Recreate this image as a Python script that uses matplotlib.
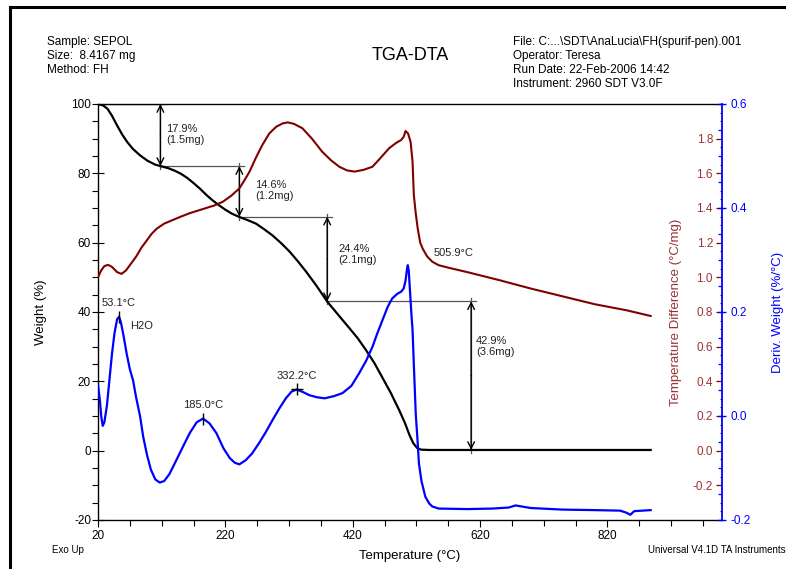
import matplotlib
matplotlib.use("Agg")
import matplotlib.pyplot as plt
from matplotlib.lines import Line2D
import numpy as np

plt.rcParams['font.family'] = ['Liberation Sans', 'DejaVu Sans']
plt.rcParams['axes.unicode_minus'] = False

# ---------------- data ----------------
temp_w = [20, 28, 35, 42, 50, 58, 66, 75, 86, 98, 110, 120, 130, 140, 150, 160, 170, 180,
          190, 200, 210, 220, 230, 242, 255, 268, 280, 294, 308, 321, 334, 347, 363, 380,
          399, 415, 428, 441, 454, 466, 480, 493, 502, 509, 515, 521, 527, 540, 600, 700,
          800, 888]
weight = [100, 99.6, 98.6, 96.6, 93.8, 91.2, 89.0, 87.0, 85.2, 83.6, 82.5, 82.0, 81.5, 80.8,
          79.9, 78.7, 77.2, 75.6, 73.8, 72.2, 70.8, 69.5, 68.4, 67.4, 66.5, 65.5, 64.0, 62.1,
          59.8, 57.4, 54.6, 51.6, 47.6, 43.0, 38.8, 35.3, 32.4, 29.0, 25.3, 21.3, 16.6, 11.7,
          8.0, 4.6, 2.2, 0.8, 0.3, 0.2, 0.2, 0.2, 0.2, 0.2]

temp_r = [20, 25, 30, 36, 42, 50, 57, 64, 72, 80, 88, 96, 104, 112, 124, 137, 150, 164, 177,
          190, 203, 216, 229, 242, 250, 258, 268, 278, 289, 300, 310, 318, 328, 341, 356, 372,
          386, 399, 411, 423, 437, 451, 464, 477, 488, 496, 500, 503, 507, 511, 514, 516, 519,
          522, 526, 530, 537, 545, 555, 571, 600, 650, 700, 750, 800, 850, 888]
temp_diff = [1.00, 1.04, 1.065, 1.072, 1.06, 1.03, 1.02, 1.04, 1.08, 1.12, 1.17, 1.21, 1.25,
             1.28, 1.31, 1.33, 1.35, 1.37, 1.385, 1.40, 1.415, 1.436, 1.47, 1.513, 1.56, 1.61,
             1.69, 1.763, 1.83, 1.869, 1.888, 1.894, 1.885, 1.86, 1.80, 1.725, 1.675, 1.638,
             1.617, 1.61, 1.62, 1.638, 1.69, 1.744, 1.775, 1.792, 1.81, 1.844, 1.83, 1.78,
             1.667, 1.475, 1.37, 1.285, 1.2, 1.165, 1.12, 1.09, 1.07, 1.055, 1.03, 0.984,
             0.935, 0.89, 0.845, 0.81, 0.777]

temp_d = [20, 23, 25, 27.4, 30, 34, 38, 42, 46, 50, 53.1, 56, 60, 65, 70, 75, 80, 86, 91, 97,
          103, 110, 117, 124, 132, 143, 153, 164, 175, 185, 195, 206, 217, 227, 235, 242, 252,
          262, 273, 284, 294, 305, 315, 324, 332.2, 342, 352, 364, 376, 390, 404, 418, 430,
          441, 451, 459, 467, 475, 482, 490, 496, 500, 503, 505, 506.5, 508, 510, 512, 514,
          516, 519, 522, 524, 528, 534, 540, 545, 555, 600, 640, 665, 676, 690, 700, 750, 800,
          840, 850, 856, 862, 888]
deriv = [0.06, 0.03, 0.0, -0.019, -0.012, 0.02, 0.07, 0.12, 0.16, 0.186, 0.191, 0.18, 0.155,
         0.12, 0.09, 0.069, 0.035, 0.0, -0.04, -0.075, -0.103, -0.122, -0.128, -0.125, -0.112,
         -0.085, -0.06, -0.033, -0.012, -0.005, -0.014, -0.033, -0.062, -0.081, -0.09, -0.093,
         -0.085, -0.072, -0.052, -0.03, -0.008, 0.015, 0.034, 0.047, 0.051, 0.046, 0.04, 0.036,
         0.034, 0.038, 0.044, 0.058, 0.082, 0.106, 0.133, 0.16, 0.185, 0.21, 0.226, 0.235,
         0.239, 0.245, 0.26, 0.28, 0.29, 0.28, 0.24, 0.2, 0.165, 0.1, 0.005, -0.05, -0.091,
         -0.125, -0.155, -0.168, -0.174, -0.178, -0.179, -0.178, -0.176, -0.172, -0.175,
         -0.177, -0.18, -0.181, -0.182, -0.186, -0.19, -0.183, -0.181]

# weight-loss steps
step_T = [118, 242, 380, 606]
step_top = [100.0, 82.1, 67.5, 43.1]
step_bot = [82.1, 67.5, 43.1, 0.2]
step_pct = ["17.9%", "14.6%", "24.4%", "42.9%"]
step_mg = ["(1.5mg)", "(1.2mg)", "(2.1mg)", "(3.6mg)"]

# DTG peak labels
peak_T = [53.1, 185.0, 332.2]
peak_val = [0.191, -0.005, 0.051]
peak_lbl = ["53.1°C", "185.0°C", "332.2°C"]

x_ticks = [20, 220, 420, 620, 820]
w_ticks = [-20, 0, 20, 40, 60, 80, 100]
r_ticks = [-0.2, 0.0, 0.2, 0.4, 0.6, 0.8, 1.0, 1.2, 1.4, 1.6, 1.8]
d_ticks = [-0.2, 0.0, 0.2, 0.4, 0.6]

RED = '#800000'
RED_TXT = '#993333'
BLUE = '#0000FF'
GRAY = '#555555'
TXT = '#222222'

W, H = 786, 569
fig = plt.figure(figsize=(W / 100, H / 100), dpi=100)
fig.patch.set_facecolor('white')

def fx(px):
    return px / W

def fy(py):
    return 1 - py / H

ax = fig.add_axes([fx(98), fy(520), (722 - 98) / W, (520 - 104) / H])
ax_r = ax.twinx()
ax_b = ax.twinx()

# ---- weight axis
ax.set_xlim(20, 1000)
ax.set_ylim(-20, 100)
ax.plot(temp_w, weight, color='black', lw=1.6, zorder=3)
ax.set_xticks(x_ticks)
ax.set_xticks(np.arange(70, 1000, 50), minor=True)
ax.set_yticks(w_ticks)
ax.set_yticks(np.arange(-20, 101, 5), minor=True)
ax.tick_params(axis='x', which='major', direction='out', length=5, width=0.8, labelsize=8.5, pad=2)
ax.tick_params(axis='x', which='minor', direction='out', length=4, width=0.8)
ax.tick_params(axis='y', which='major', direction='inout', length=8, width=0.8, labelsize=8.5, pad=1)
ax.tick_params(axis='y', which='minor', direction='out', length=4, width=0.8)
ax.spines['right'].set_visible(False)
for s in ['left', 'bottom', 'top']:
    ax.spines[s].set_linewidth(1.0)
ax.set_ylabel('Weight (%)', fontsize=9.5)
ax.yaxis.set_label_coords(-0.082, 0.5)
ax.set_xlabel('Temperature (°C)', fontsize=9.5)
ax.xaxis.set_label_coords(0.5, -0.072)

# ---- temperature difference axis (red)
ax_r.set_ylim(-0.4, 2.0)
ax_r.plot(temp_r, temp_diff, color=RED, lw=1.5, zorder=3)
ax_r.set_yticks(r_ticks)
ax_r.set_yticks(np.arange(-0.35, 2.0, 0.05), minor=True)
ax_r.set_yticklabels([f"{v:.1f}" for v in r_ticks])
ax_r.tick_params(axis='y', which='major', direction='in', length=4, width=0.9, color=RED,
                 labelcolor=RED_TXT, labelsize=8.5, pad=-6.5)
ax_r.tick_params(axis='y', which='minor', direction='in', length=1.5, width=0.8, color=RED)
for lbl in ax_r.get_yticklabels():
    lbl.set_horizontalalignment('right')
for s in ['left', 'bottom', 'top', 'right']:
    ax_r.spines[s].set_visible(False)
ax_r.set_ylabel('Temperature Difference (°C/mg)', fontsize=9.5, color=RED_TXT)
ax_r.yaxis.set_label_coords(0.917, 0.5)

# ---- derivative weight axis (blue)
ax_b.set_ylim(-0.2, 0.6)
ax_b.plot(temp_d, deriv, color=BLUE, lw=1.6, zorder=3)
ax_b.set_yticks(d_ticks)
ax_b.set_yticks(np.arange(-0.2, 0.61, 0.05), minor=True)
ax_b.set_yticklabels([f"{v:.1f}" for v in d_ticks])
ax_b.tick_params(axis='y', which='major', direction='inout', length=6, width=1.0, color=BLUE,
                 labelcolor=BLUE, labelsize=8.5, pad=3)
ax_b.tick_params(axis='y', which='minor', direction='in', length=3, width=0.9, color=BLUE)
for s in ['left', 'bottom', 'top']:
    ax_b.spines[s].set_visible(False)
ax_b.spines['right'].set_color(BLUE)
ax_b.spines['right'].set_linewidth(1.3)
ax_b.set_ylabel('Deriv. Weight (%/°C)', fontsize=9.5, color=BLUE)
ax_b.yaxis.set_label_coords(1.080, 0.5)

# ---- weight step annotations
prev = 20
for i in range(len(step_T)):
    t = step_T[i]
    lw_h = 1.6 if i == 0 else 0.9
    col_h = 'black' if i == 0 else GRAY
    mid = (step_top[i] + step_bot[i]) / 2
    ax.plot([prev, t + 8], [step_top[i], step_top[i]], color=col_h, lw=lw_h, zorder=2)
    ax.plot([t, t], [step_top[i] + 0.9, step_bot[i] - 0.9], color=GRAY, lw=0.9, zorder=2)
    for end in (step_top[i], step_bot[i]):
        ax.annotate('', xy=(t, end), xytext=(t, mid),
                    arrowprops=dict(arrowstyle='->', color='black', lw=1.0,
                                    mutation_scale=12, shrinkA=0, shrinkB=0))
    ax.plot([t, t], [mid - 0.1, mid + 0.1], color=GRAY, lw=0.9)
    prev = t

# text labels of the steps (positions in weight units)
step_txt_T = [127, 267, 398, 614]
step_txt_w = [91.3, 75.0, 56.5, 30.0]
for i in range(len(step_T)):
    ax.text(step_txt_T[i], step_txt_w[i], step_pct[i] + "\n" + step_mg[i], fontsize=8,
            color=TXT, ha='left', va='center', linespacing=1.1)

# ---- DTG peak markers and labels
for i in range(len(peak_T)):
    mk = '+' if i == 2 else '|'
    ax_b.plot([peak_T[i]], [peak_val[i]], marker=mk, color='black', markersize=8, mew=1.0,
              zorder=4)
    ax_b.text(peak_T[i], peak_val[i] + 0.016, peak_lbl[i], fontsize=8, color=TXT,
              ha='center', va='bottom')
ax_b.text(71, 0.173, 'H2O', fontsize=8, color=TXT, ha='left', va='center')
ax_r.text(547, 1.14, '505.9°C', fontsize=8, color=TXT, ha='left', va='center')

# ---- header / footer texts
fig.text(fx(47), fy(42), 'Sample: SEPOL', fontsize=8.5, va='center', ha='left')
fig.text(fx(47), fy(56), 'Size:  8.4167 mg', fontsize=8.5, va='center', ha='left')
fig.text(fx(47), fy(70), 'Method: FH', fontsize=8.5, va='center', ha='left')
fig.text(fx(410), fy(55), 'TGA-DTA', fontsize=13, va='center', ha='center')
fig.text(fx(513), fy(42), 'File: C:...\\SDT\\AnaLucia\\FH(spurif-pen).001', fontsize=8.5,
         va='center', ha='left')
fig.text(fx(513), fy(56), 'Operator: Teresa', fontsize=8.5, va='center', ha='left')
fig.text(fx(513), fy(70), 'Run Date: 22-Feb-2006 14:42', fontsize=8.5, va='center', ha='left')
fig.text(fx(513), fy(84), 'Instrument: 2960 SDT V3.0F', fontsize=8.5, va='center', ha='left')
fig.text(fx(52), fy(550), 'Exo Up', fontsize=7, va='center', ha='left')
fig.text(fx(648), fy(550), 'Universal V4.1D TA Instruments', fontsize=7, va='center', ha='left')

# page frame
fig.add_artist(Line2D([fx(10), fx(10)], [0, fy(7)], color='black', lw=2.2))
fig.add_artist(Line2D([fx(10), 1], [fy(7), fy(7)], color='black', lw=2.2))

fig.savefig('out.png', dpi=100)
